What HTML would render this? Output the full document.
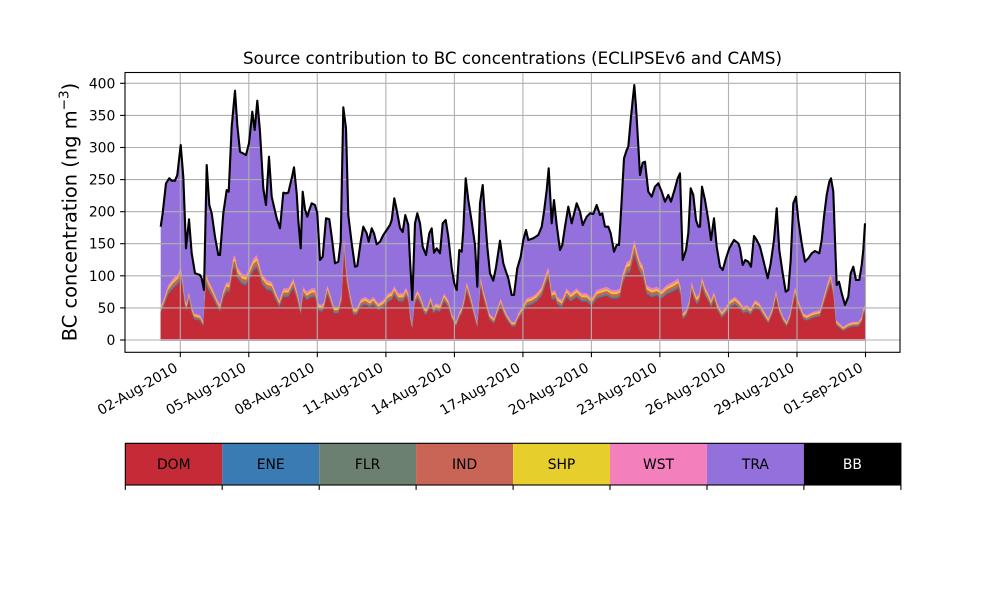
<!DOCTYPE html>
<html><head><meta charset="utf-8">
<style>
html,body{margin:0;padding:0;background:#fff;}
svg{display:block;font-family:"DejaVu Sans","Liberation Sans",sans-serif;}
</style></head>
<body>
<svg width="1000" height="600" viewBox="0 0 1000 600" xmlns="http://www.w3.org/2000/svg">
<defs>
<clipPath id="cb"><rect x="100" y="0" width="900" height="340"/></clipPath>
<polygon id="band" points="160.7,306 163.3,300 168.3,285 173.3,278.3 178.3,273.3 180.7,266 182.7,280 185,300 186.7,303.3 189,291.7 191.7,306.7 194,313.3 200,315 203.3,321.7 206,273.3 208.3,280 211.7,286.7 216.7,298.3 220,305 223.3,290 226.7,281.7 229.3,283.3 233.3,256.7 235,255 237.3,266.7 241.7,273.3 246,275 250,266.7 253.3,258.3 256.7,255 259.3,263.3 261.7,273.3 266.7,280 271.7,281.7 275,290 279.3,300 283.3,288.3 288.3,288.3 293.3,278.3 296.7,290 300.7,308.3 303.3,286.7 306.7,291.7 311.7,288.3 315,288.3 318.3,303.3 321.7,305 324,301.7 327.3,285 330,293.3 334,306.7 338.3,306.7 341.7,293.3 344,238.3 346.7,273.3 350,293.3 353.3,308.3 356.7,308.3 360.7,299.3 365,296.7 370,300 373.3,296.7 378.3,303.3 383.3,300 388.3,293.3 391.7,291.7 394.3,286 398.3,293.3 403.3,293.3 406,287.3 408.3,293.3 410,313.3 412.2,325 414.8,296 417.5,290 420.7,296.7 424,306.7 426.7,308.3 430.7,296.7 433.3,306.7 436,303.3 440,305 444,293.3 448.3,300 451.7,313.3 456,321.7 459.3,311.7 462,306.7 464.3,296.7 466.7,281.7 470,293.3 473.3,306.7 477.3,323.3 480.7,276.7 483.3,290 486,300 489.3,313.3 494,318.3 497.3,308.3 500.7,298.3 504,308.3 507.3,315 511.7,321.7 515,321.7 518.3,313.3 523.3,305 526.7,298.3 531.7,296.7 536.7,293.3 541.7,286.7 546,273.3 548.3,266.7 551.7,291.7 555,290 557.3,296.7 561.7,300 566.7,288.3 570.7,293.3 576.7,288.3 581.7,293.3 586.7,293.3 591.7,298.3 596.7,290 601.7,288.3 606.7,286.7 611.7,290 616.7,290 620,288.3 622.7,273.3 626.7,261.7 630,260 634.3,240 637.3,251.7 640,261 642.7,265 646.7,285 651.7,288.3 656.7,286.7 661.7,290 666.7,285 673.3,281.7 678.3,278.3 680.7,286.7 682.7,313.3 686,310 689.3,300 691.7,281.7 694,290 696.7,296.7 699.3,293.3 702,276.7 705,286.7 708.3,293.3 711,300 714,291.7 717.3,303.3 721.7,311.7 726,306.7 730,300 735,296.7 740,301.7 743.3,306.7 746.7,305 750.7,308.3 755,300 759.3,302.7 763.3,310 768.3,318.3 772.7,306.7 776,290 779.3,306.7 783.3,316.7 786.7,321.7 790,313.3 795,286.7 798.3,300 803.3,313.3 806.7,315 813.3,311.7 820,310 825,291.7 828.3,280 830.7,273.3 833.3,286.7 836,320 839.3,323.3 843.3,326.7 848.3,323.3 853.3,321.7 858.3,321.7 861.7,316.7 863.3,308.3 865,305 865,345 160.7,345"/>
</defs>

<!-- Title -->
<text x="512.5" y="64" font-size="16.67" text-anchor="middle" fill="#000">Source contribution to BC concentrations (ECLIPSEv6 and CAMS)</text>

<!-- purple total area -->
<polygon fill="#9370db" points="160.7,226.7 162.7,213 166,183.3 169.3,178.3 171.7,180.7 175,180.7 177.3,175 180.7,145 183.3,176.7 186,248.3 189,219.3 191.7,253.3 195,273.3 200,275 201.7,278.3 204,290 206.7,165 209.3,205 211.7,213.3 215,236.7 218.3,255 220,255 223.3,213.3 226.7,190 228.7,191.7 231.7,126.7 235,90.7 237.3,125 240,151.7 246,155 249,143.3 252.3,111.7 254.7,130 257.3,100.7 260,131.7 263.3,188.3 266,205 269,156.7 271.7,196.7 274,206.7 276.7,218.3 280,228.3 283.3,192.7 286,193.3 288.3,192.7 291.7,178.3 294,167.3 296.7,193.3 298.3,220 300.7,248.3 302.7,191.7 305,209.3 307.3,216.7 309.3,210 311.7,203.3 315,205 317.3,213.3 320,260 322.7,256.7 326,218.3 329.3,219.3 331.7,236.7 335,263.3 338.3,261.7 340.7,241.7 343.3,107.3 346,128.3 348.3,215 351.7,243.3 355,266.7 357.3,266 360.7,241.7 363.3,226.7 366.7,233.3 368.7,241.7 371.7,228.3 374,233.3 376.7,244.3 380,241.7 383.3,235 386.7,230 390,225 391.7,220 394.3,198.3 396.7,210 400,228 402.7,232 405.3,215 408.3,225 410,260 412.3,300 415,223.3 417.3,213.3 420,223.3 422.7,246.7 426,255 429.3,233.3 431.7,228.3 434,252.7 436.7,248.3 440,253.3 442.7,223.3 445.7,220 448.3,236.7 451.7,268.3 454.3,283.3 456.7,290 459.3,250 461.7,251.7 463.3,230 465.7,178.3 468.3,200 471.7,221.7 475,245 477.3,286.7 480,203.3 482.7,185 485,216.7 487.3,246.7 490,273.3 493.3,280.7 496,267.3 500,240.7 503.3,263.3 506,271.7 508.3,278.3 511.7,295 514,295 517.3,268.3 520.7,256.7 523.3,240 526,230 528.3,240 533.3,238.3 538.3,235 541.7,226.7 544,211.7 546.7,190 548.7,168.3 550,191.7 551.7,223.3 554,200 556.7,225 560,250 562.3,245 565,226.7 568.3,206.7 571.7,223.3 576.7,203.3 580,211.7 582.7,225 586.7,216.7 590,213.3 593.3,214 596.7,205 600,215 602.3,213.3 605,226.7 608.3,226.7 610.7,233.3 614,251.7 616.7,245 619,245 621.7,200 624,158.3 626.7,150 628.3,146.7 630.7,120 632.7,100 634.3,85 636,106.7 638,140 640,175 642.7,162.7 645,161.7 648.3,191.7 651.7,196.7 655,186.7 658.3,183.3 661.7,191.7 665,201.7 668.3,195 671,201.7 675,188.3 677.7,178.3 680,173.3 682.7,260 686,250 688.3,233.3 690.7,188.3 693.3,195 696,220 698.3,226.7 700,226.7 702,186.7 705,200 708.3,220 711,240 714,218.3 716.7,246.7 720,266.7 722.7,270 726,258.3 729.3,248.3 734,240 738.3,243.3 740,248.3 742.7,265 745.3,260 748.3,261.7 751,266.7 754,236 756.7,240 760,246.7 763.3,260 767.7,278.3 770.7,263.3 774,240 776.7,208.3 779.3,250 782.7,273.3 785.7,291.7 788.3,290 790.7,260 793.3,203.3 796,196.7 798.3,220 801.7,243.3 805,261.7 808.3,258.3 811.7,253.3 815,251 819.3,253.3 821.7,240 824,216.7 826.7,195 829.3,181.7 831,178.3 833.3,191.7 835,240 836.7,285 839,281.7 841.7,293.3 845,305 848.3,296.7 850.7,273.3 853.3,266.7 856,280 859.3,280 861.7,265 863.3,250 865,223.3 865,340 160.7,340"/>

<!-- stacked thin layers + DOM -->
<g clip-path="url(#cb)">
  <use href="#band" fill="#f380bc"/>
  <use href="#band" fill="#e6cf2d" transform="matrix(1,0,0,0.97,0,11.0)"/>
  <use href="#band" fill="#c86556" transform="matrix(1,0,0,0.95,0,18.6)"/>
  <use href="#band" fill="#6c8070" transform="matrix(1,0,0,0.91,0,32.8)"/>
  <use href="#band" fill="#3a7bb3" transform="matrix(1,0,0,0.89,0,39.8)"/>
  <use href="#band" fill="#c52a37" transform="matrix(1,0,0,0.88,0,43.6)"/>
</g>
<line x1="160.7" y1="340" x2="865" y2="340" stroke="#e09aa3" stroke-width="2"/>

<!-- grid -->
<g stroke="#b0b0b0" stroke-width="1.1">
  <line x1="125" x2="900" y1="340" y2="340"/>
  <line x1="125" x2="900" y1="307.9" y2="307.9"/>
  <line x1="125" x2="900" y1="275.8" y2="275.8"/>
  <line x1="125" x2="900" y1="243.7" y2="243.7"/>
  <line x1="125" x2="900" y1="211.7" y2="211.7"/>
  <line x1="125" x2="900" y1="179.6" y2="179.6"/>
  <line x1="125" x2="900" y1="147.5" y2="147.5"/>
  <line x1="125" x2="900" y1="115.4" y2="115.4"/>
  <line x1="125" x2="900" y1="83.3" y2="83.3"/>
  <line y1="72.5" y2="352.3" x1="180.3" x2="180.3"/>
  <line y1="72.5" y2="352.3" x1="248.8" x2="248.8"/>
  <line y1="72.5" y2="352.3" x1="317.3" x2="317.3"/>
  <line y1="72.5" y2="352.3" x1="385.9" x2="385.9"/>
  <line y1="72.5" y2="352.3" x1="454.4" x2="454.4"/>
  <line y1="72.5" y2="352.3" x1="522.9" x2="522.9"/>
  <line y1="72.5" y2="352.3" x1="591.4" x2="591.4"/>
  <line y1="72.5" y2="352.3" x1="659.9" x2="659.9"/>
  <line y1="72.5" y2="352.3" x1="728.5" x2="728.5"/>
  <line y1="72.5" y2="352.3" x1="797" x2="797"/>
  <line y1="72.5" y2="352.3" x1="865.5" x2="865.5"/>
</g>

<!-- total line -->
<polyline fill="none" stroke="#000" stroke-width="2.1" stroke-linejoin="round" points="160.7,226.7 162.7,213 166,183.3 169.3,178.3 171.7,180.7 175,180.7 177.3,175 180.7,145 183.3,176.7 186,248.3 189,219.3 191.7,253.3 195,273.3 200,275 201.7,278.3 204,290 206.7,165 209.3,205 211.7,213.3 215,236.7 218.3,255 220,255 223.3,213.3 226.7,190 228.7,191.7 231.7,126.7 235,90.7 237.3,125 240,151.7 246,155 249,143.3 252.3,111.7 254.7,130 257.3,100.7 260,131.7 263.3,188.3 266,205 269,156.7 271.7,196.7 274,206.7 276.7,218.3 280,228.3 283.3,192.7 286,193.3 288.3,192.7 291.7,178.3 294,167.3 296.7,193.3 298.3,220 300.7,248.3 302.7,191.7 305,209.3 307.3,216.7 309.3,210 311.7,203.3 315,205 317.3,213.3 320,260 322.7,256.7 326,218.3 329.3,219.3 331.7,236.7 335,263.3 338.3,261.7 340.7,241.7 343.3,107.3 346,128.3 348.3,215 351.7,243.3 355,266.7 357.3,266 360.7,241.7 363.3,226.7 366.7,233.3 368.7,241.7 371.7,228.3 374,233.3 376.7,244.3 380,241.7 383.3,235 386.7,230 390,225 391.7,220 394.3,198.3 396.7,210 400,228 402.7,232 405.3,215 408.3,225 410,260 412.3,300 415,223.3 417.3,213.3 420,223.3 422.7,246.7 426,255 429.3,233.3 431.7,228.3 434,252.7 436.7,248.3 440,253.3 442.7,223.3 445.7,220 448.3,236.7 451.7,268.3 454.3,283.3 456.7,290 459.3,250 461.7,251.7 463.3,230 465.7,178.3 468.3,200 471.7,221.7 475,245 477.3,286.7 480,203.3 482.7,185 485,216.7 487.3,246.7 490,273.3 493.3,280.7 496,267.3 500,240.7 503.3,263.3 506,271.7 508.3,278.3 511.7,295 514,295 517.3,268.3 520.7,256.7 523.3,240 526,230 528.3,240 533.3,238.3 538.3,235 541.7,226.7 544,211.7 546.7,190 548.7,168.3 550,191.7 551.7,223.3 554,200 556.7,225 560,250 562.3,245 565,226.7 568.3,206.7 571.7,223.3 576.7,203.3 580,211.7 582.7,225 586.7,216.7 590,213.3 593.3,214 596.7,205 600,215 602.3,213.3 605,226.7 608.3,226.7 610.7,233.3 614,251.7 616.7,245 619,245 621.7,200 624,158.3 626.7,150 628.3,146.7 630.7,120 632.7,100 634.3,85 636,106.7 638,140 640,175 642.7,162.7 645,161.7 648.3,191.7 651.7,196.7 655,186.7 658.3,183.3 661.7,191.7 665,201.7 668.3,195 671,201.7 675,188.3 677.7,178.3 680,173.3 682.7,260 686,250 688.3,233.3 690.7,188.3 693.3,195 696,220 698.3,226.7 700,226.7 702,186.7 705,200 708.3,220 711,240 714,218.3 716.7,246.7 720,266.7 722.7,270 726,258.3 729.3,248.3 734,240 738.3,243.3 740,248.3 742.7,265 745.3,260 748.3,261.7 751,266.7 754,236 756.7,240 760,246.7 763.3,260 767.7,278.3 770.7,263.3 774,240 776.7,208.3 779.3,250 782.7,273.3 785.7,291.7 788.3,290 790.7,260 793.3,203.3 796,196.7 798.3,220 801.7,243.3 805,261.7 808.3,258.3 811.7,253.3 815,251 819.3,253.3 821.7,240 824,216.7 826.7,195 829.3,181.7 831,178.3 833.3,191.7 835,240 836.7,285 839,281.7 841.7,293.3 845,305 848.3,296.7 850.7,273.3 853.3,266.7 856,280 859.3,280 861.7,265 863.3,250 865,223.3"/>

<!-- axes frame -->
<rect x="125" y="72.5" width="775" height="279.8" fill="none" stroke="#000" stroke-width="1.1"/>

<!-- y ticks -->
<g stroke="#000" stroke-width="1.1">
  <line x1="120.1" x2="125" y1="340" y2="340"/>
  <line x1="120.1" x2="125" y1="307.9" y2="307.9"/>
  <line x1="120.1" x2="125" y1="275.8" y2="275.8"/>
  <line x1="120.1" x2="125" y1="243.7" y2="243.7"/>
  <line x1="120.1" x2="125" y1="211.7" y2="211.7"/>
  <line x1="120.1" x2="125" y1="179.6" y2="179.6"/>
  <line x1="120.1" x2="125" y1="147.5" y2="147.5"/>
  <line x1="120.1" x2="125" y1="115.4" y2="115.4"/>
  <line x1="120.1" x2="125" y1="83.3" y2="83.3"/>
</g>
<g font-size="13.89" text-anchor="end" fill="#000">
  <text x="115.3" y="345">0</text>
  <text x="115.3" y="312.9">50</text>
  <text x="115.3" y="280.8">100</text>
  <text x="115.3" y="248.7">150</text>
  <text x="115.3" y="216.7">200</text>
  <text x="115.3" y="184.6">250</text>
  <text x="115.3" y="152.5">300</text>
  <text x="115.3" y="120.4">350</text>
  <text x="115.3" y="88.3">400</text>
</g>

<!-- x ticks -->
<g stroke="#000" stroke-width="1.1">
  <line y1="352.3" y2="357.2" x1="180.3" x2="180.3"/>
  <line y1="352.3" y2="357.2" x1="248.8" x2="248.8"/>
  <line y1="352.3" y2="357.2" x1="317.3" x2="317.3"/>
  <line y1="352.3" y2="357.2" x1="385.9" x2="385.9"/>
  <line y1="352.3" y2="357.2" x1="454.4" x2="454.4"/>
  <line y1="352.3" y2="357.2" x1="522.9" x2="522.9"/>
  <line y1="352.3" y2="357.2" x1="591.4" x2="591.4"/>
  <line y1="352.3" y2="357.2" x1="659.9" x2="659.9"/>
  <line y1="352.3" y2="357.2" x1="728.5" x2="728.5"/>
  <line y1="352.3" y2="357.2" x1="797" x2="797"/>
  <line y1="352.3" y2="357.2" x1="865.5" x2="865.5"/>
</g>
<g font-size="13.89" text-anchor="end" fill="#000">
  <text transform="translate(178.7,370.5) rotate(-30)">02-Aug-2010</text>
  <text transform="translate(247.2,370.5) rotate(-30)">05-Aug-2010</text>
  <text transform="translate(315.7,370.5) rotate(-30)">08-Aug-2010</text>
  <text transform="translate(384.3,370.5) rotate(-30)">11-Aug-2010</text>
  <text transform="translate(452.8,370.5) rotate(-30)">14-Aug-2010</text>
  <text transform="translate(521.3,370.5) rotate(-30)">17-Aug-2010</text>
  <text transform="translate(589.8,370.5) rotate(-30)">20-Aug-2010</text>
  <text transform="translate(658.3,370.5) rotate(-30)">23-Aug-2010</text>
  <text transform="translate(726.9,370.5) rotate(-30)">26-Aug-2010</text>
  <text transform="translate(795.4,370.5) rotate(-30)">29-Aug-2010</text>
  <text transform="translate(863.9,370.5) rotate(-30)">01-Sep-2010</text>
</g>

<!-- y label -->
<text transform="translate(76.5,212) rotate(-90)" font-size="19.44" text-anchor="middle" fill="#000">BC concentration (ng m<tspan font-size="13.6" dy="-8">−3</tspan><tspan dy="8">)</tspan></text>

<!-- colorbar legend -->
<g>
  <rect x="125.3" y="443.3" width="96.95" height="41.7" fill="#c52a37"/>
  <rect x="222.2" y="443.3" width="96.95" height="41.7" fill="#3a7bb3"/>
  <rect x="319.2" y="443.3" width="96.95" height="41.7" fill="#6c8070"/>
  <rect x="416.1" y="443.3" width="96.95" height="41.7" fill="#c86556"/>
  <rect x="513.1" y="443.3" width="96.95" height="41.7" fill="#e6cf2d"/>
  <rect x="610" y="443.3" width="96.95" height="41.7" fill="#f380bc"/>
  <rect x="707" y="443.3" width="96.95" height="41.7" fill="#9370db"/>
  <rect x="803.9" y="443.3" width="96.95" height="41.7" fill="#000000"/>
  <rect x="125.3" y="443.3" width="775.6" height="41.7" fill="none" stroke="#000" stroke-width="1.1"/>
</g>
<g font-size="13.89" text-anchor="middle" fill="#000">
  <text x="173.8" y="469">DOM</text>
  <text x="270.7" y="469">ENE</text>
  <text x="367.6" y="469">FLR</text>
  <text x="464.6" y="469">IND</text>
  <text x="561.5" y="469">SHP</text>
  <text x="658.5" y="469">WST</text>
  <text x="755.4" y="469">TRA</text>
  <text x="852.4" y="469" fill="#ffffff">BB</text>
</g>
<g stroke="#000" stroke-width="1.1">
  <line y1="485" y2="489.9" x1="125.3" x2="125.3"/>
  <line y1="485" y2="489.9" x1="222.2" x2="222.2"/>
  <line y1="485" y2="489.9" x1="319.2" x2="319.2"/>
  <line y1="485" y2="489.9" x1="416.1" x2="416.1"/>
  <line y1="485" y2="489.9" x1="513.1" x2="513.1"/>
  <line y1="485" y2="489.9" x1="610" x2="610"/>
  <line y1="485" y2="489.9" x1="707" x2="707"/>
  <line y1="485" y2="489.9" x1="803.9" x2="803.9"/>
  <line y1="485" y2="489.9" x1="900.9" x2="900.9"/>
</g>
</svg>
</body></html>
